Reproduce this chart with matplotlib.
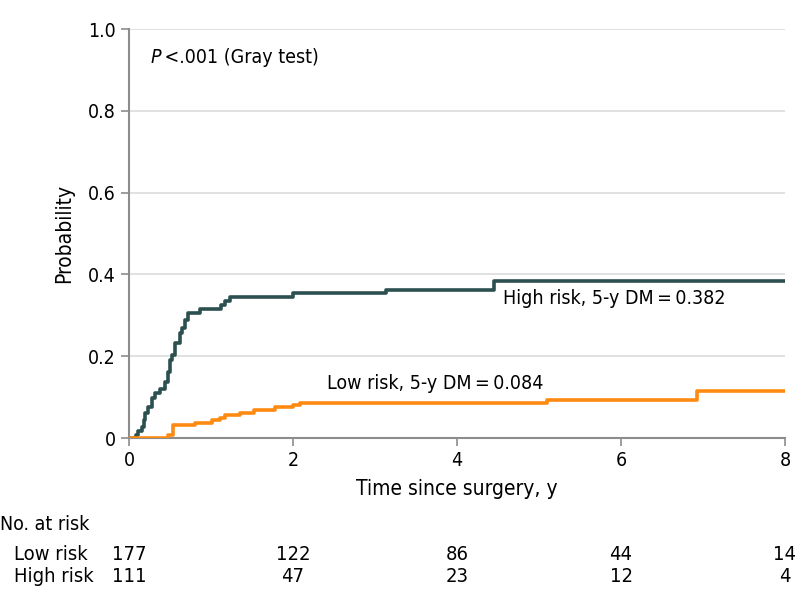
import matplotlib
matplotlib.use('Agg')
import matplotlib.pyplot as plt
from matplotlib.transforms import blended_transform_factory

plt.rcParams['font.family'] = ['DejaVu Sans']
plt.rcParams['font.stretch'] = 'condensed'

# Cumulative incidence steps (time in years, probability)
high_t = [0.0, 0.08, 0.11, 0.155, 0.18, 0.195, 0.235, 0.275, 0.315, 0.38, 0.44,
          0.48, 0.50, 0.52, 0.56, 0.62, 0.64, 0.68, 0.72, 0.86, 1.12, 1.17,
          1.23, 2.0, 3.14, 4.45, 8.0]
high_p = [0.0, 0.008, 0.016, 0.028, 0.044, 0.060, 0.077, 0.097, 0.109, 0.121,
          0.138, 0.162, 0.191, 0.203, 0.232, 0.256, 0.268, 0.289, 0.305, 0.316,
          0.326, 0.335, 0.344, 0.354, 0.363, 0.383, 0.383]

low_t = [0.0, 0.48, 0.54, 0.80, 1.01, 1.11, 1.17, 1.35, 1.52, 1.78, 2.0, 2.09,
         5.10, 6.93, 8.0]
low_p = [0.0, 0.008, 0.031, 0.037, 0.044, 0.050, 0.056, 0.060, 0.068, 0.075,
         0.081, 0.085, 0.094, 0.116, 0.116]

# Number at risk table
risk_times = [0, 2, 4, 6, 8]
low_at_risk = [177, 122, 86, 44, 14]
high_at_risk = [111, 47, 23, 12, 4]

high_color = '#2b504f'
low_color = '#ff8a12'
axis_gray = '#8c8c8c'

fig = plt.figure(figsize=(7.98, 6.08), dpi=100)
ax = fig.add_axes([0.1617, 0.2796, 0.822, 0.6727])

for y in [0.2, 0.4, 0.6, 0.8, 1.0]:
    ax.axhline(y, color='#dcdcdc', lw=1.2, zorder=0)

ax.step(high_t, high_p, where='post', color=high_color, lw=2.6, zorder=3)
ax.step(low_t, low_p, where='post', color=low_color, lw=2.6, zorder=3)

ax.set_xlim(0, 8)
ax.set_ylim(0, 1.0)
ax.set_xticks(risk_times)
ax.set_yticks([0, 0.2, 0.4, 0.6, 0.8, 1.0])
ax.set_yticklabels(['0', '0.2', '0.4', '0.6', '0.8', '1.0'])
for s in ['top', 'right']:
    ax.spines[s].set_visible(False)
for s in ['left', 'bottom']:
    ax.spines[s].set_color(axis_gray)
    ax.spines[s].set_linewidth(1.5)
ax.tick_params(colors=axis_gray, labelcolor='black', labelsize=14,
               length=6, width=1.2)
ax.set_xlabel('Time since surgery, y', fontsize=15, labelpad=6)
ax.set_ylabel('Probability', fontsize=15, labelpad=10)

ptxt = ax.text(0.26, 0.93, 'P', fontsize=14, va='center', style='italic')
ax.annotate('\u2009<.001 (Gray test)', xy=(1, 0.5), xycoords=ptxt,
            fontsize=14, va='center')
ax.text(4.56, 0.342, 'High risk, 5-y DM\u2009=\u20090.382', fontsize=14,
        va='center')
ax.text(2.41, 0.134, 'Low risk, 5-y DM\u2009=\u20090.084', fontsize=14,
        va='center')

# risk table below
tr = blended_transform_factory(ax.transData, fig.transFigure)
fig.text(0.0, 1 - 524 / 608, 'No. at risk', fontsize=14, va='center')
fig.text(14 / 798, 1 - 554 / 608, 'Low risk', fontsize=14.5, va='center')
fig.text(14 / 798, 1 - 577 / 608, 'High risk', fontsize=14.5, va='center')
for t, lo, hi in zip(risk_times, low_at_risk, high_at_risk):
    ax.text(t, 1 - 554 / 608, str(lo), transform=tr, fontsize=14.5,
            ha='center', va='center', clip_on=False)
    ax.text(t, 1 - 577 / 608, str(hi), transform=tr, fontsize=14.5,
            ha='center', va='center', clip_on=False)

fig.savefig('out.png', dpi=100)
